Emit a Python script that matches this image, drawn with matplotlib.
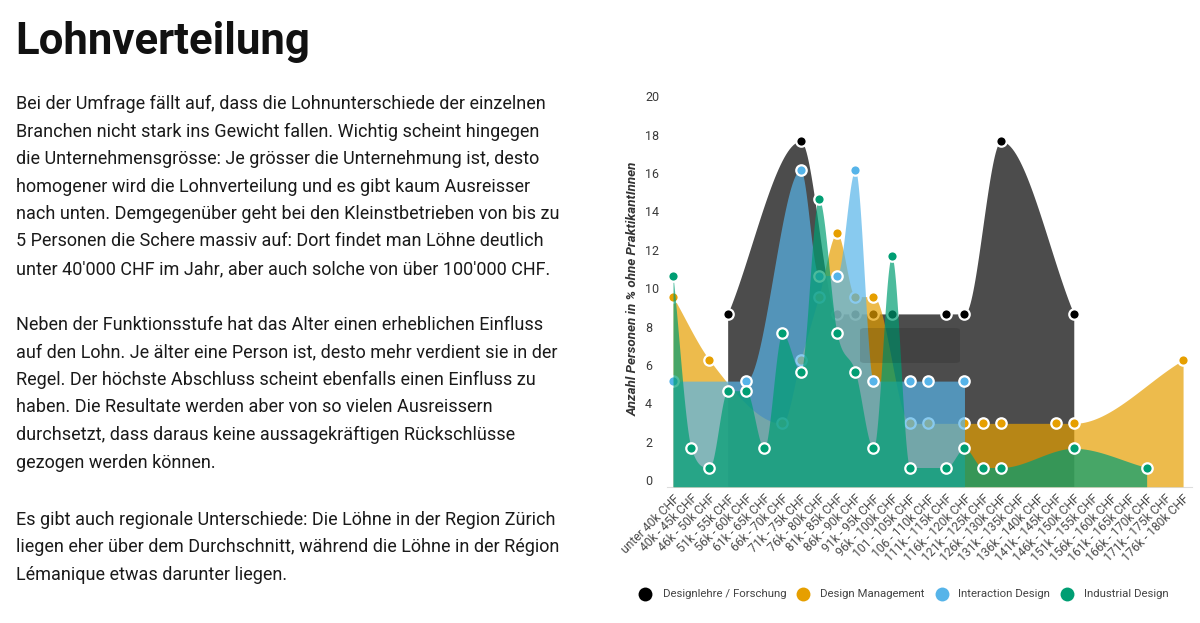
import numpy as np
import matplotlib.pyplot as plt
import matplotlib.transforms as mtransforms
from matplotlib.patches import FancyBboxPatch
from matplotlib.lines import Line2D

plt.rcParams['font.family'] = ['Roboto', 'DejaVu Sans']

nan = np.nan
labels = ["unter 40k CHF", "40k - 45k CHF", "46k - 50k CHF", "51k - 55k CHF",
          "56k - 60k CHF", "61k - 65k CHF", "66k - 70k CHF", "71k - 75k CHF",
          "76k - 80k CHF", "81k - 85k CHF", "86k - 90k CHF", "91k - 95k CHF",
          "96k - 100k CHF", "101 - 105k CHF", "106 - 110k CHF", "111k - 115k CHF",
          "116k - 120k CHF", "121k - 125k CHF", "126k - 130k CHF", "131k - 135k CHF",
          "136k - 140k CHF", "141k - 145k CHF", "146k - 150k CHF", "151k - 155k CHF",
          "156k - 160k CHF", "161k - 165k CHF", "166k - 170k CHF", "171k - 175k CHF",
          "176k - 180k CHF"]

designlehre = [nan, nan, nan, 9.0, nan, nan, nan, 18.0, nan, 9.0, 9.0, 9.0, 9.0, nan, nan,
               9.0, 9.0, nan, 18.0, nan, nan, nan, 9.0, nan, nan, nan, nan, nan, nan]
management = [9.9, nan, 6.6, nan, nan, nan, 3.3, 6.6, 9.9, 13.2, 9.9, 9.9, nan, 3.3, 3.3,
              nan, 3.3, 3.3, 3.3, nan, nan, 3.3, 3.3, nan, nan, nan, nan, nan, 6.6]
interaction = [5.5, nan, nan, nan, 5.5, nan, nan, 16.5, 11.0, 11.0, 16.5, 5.5, nan, 5.5, 5.5,
               nan, 5.5, nan, nan, nan, nan, nan, nan, nan, nan, nan, nan, nan, nan]
industrial = [11.0, 2.0, 1.0, 5.0, 5.0, 2.0, 8.0, 6.0, 15.0, 8.0, 6.0, 2.0, 12.0, 1.0, nan,
              1.0, 2.0, 1.0, 1.0, nan, nan, nan, 2.0, nan, nan, nan, 1.0, nan, nan]

series = [("Designlehre / Forschung", designlehre, "#000000"),
          ("Design Management", management, "#E69F00"),
          ("Interaction Design", interaction, "#56B4E9"),
          ("Industrial Design", industrial, "#009E73")]


def monotone(xs, ys, n=40):
    # monotone cubic like chart.js
    xs = np.asarray(xs, float)
    ys = np.asarray(ys, float)
    k = len(xs)
    d = np.diff(ys) / np.diff(xs)
    m = np.zeros(k)
    for i in range(k):
        if i == 0:
            m[i] = d[0]
        elif i == k - 1:
            m[i] = d[-1]
        elif np.sign(d[i - 1]) != np.sign(d[i]):
            m[i] = 0
        else:
            m[i] = (d[i - 1] + d[i]) / 2
    for i in range(k - 1):
        if abs(d[i]) < 1e-9:
            m[i] = m[i + 1] = 0
            continue
        a = m[i] / d[i]
        b = m[i + 1] / d[i]
        s = a * a + b * b
        if s > 9:
            t = 3 / np.sqrt(s)
            m[i] = t * a * d[i]
            m[i + 1] = t * b * d[i]
    px, py = [], []
    for i in range(k - 1):
        h = xs[i + 1] - xs[i]
        t = np.linspace(0, 1, n)
        h00 = 2 * t**3 - 3 * t**2 + 1
        h10 = t**3 - 2 * t**2 + t
        h01 = -2 * t**3 + 3 * t**2
        h11 = t**3 - t**2
        px.append(xs[i] + t * h)
        py.append(h00 * ys[i] + h10 * h * m[i] + h01 * ys[i + 1] + h11 * h * m[i + 1])
    return np.concatenate(px), np.concatenate(py)


fig = plt.figure(figsize=(12, 6.23), dpi=100)


def fx(x):
    return x / 1200


def fy(y):
    return 1 - y / 623


ax = fig.add_axes([fx(667), fy(486.7), fx(1192) - fx(667), fy(96) - fy(486.7)])
x = np.arange(len(labels))

for i, (name, vals, col) in enumerate(series):
    v = np.array(vals, float)
    ok = ~np.isnan(v)
    cx, cy = monotone(x[ok], v[ok])
    ax.fill_between(cx, 0, cy, color=col, alpha=0.7, lw=0, zorder=2 + 2 * i)
    ax.plot(x[ok], v[ok], 'o', color=col, ms=7.5, mec='white', mew=1.6,
            zorder=3 + 2 * i, clip_on=False)

ax.set_xlim(-0.33, 28.49)
ax.set_ylim(0, 20.35)
ax.set_yticks(np.arange(0, 21, 2))
ax.set_xticks(x)
ax.set_xticklabels(labels, rotation=45, ha='right', rotation_mode='anchor',
                   fontsize=8.7, color='#4a4a4a')
ax.tick_params(axis='x', length=0, pad=4)
ax.tick_params(axis='y', length=0, pad=15.8, labelsize=9, labelcolor='#3a3a3a')
shift = mtransforms.ScaledTranslation(0, 0.065, fig.dpi_scale_trans)
for lab in ax.get_yticklabels():
    lab.set_horizontalalignment('left')
    lab.set_transform(lab.get_transform() + shift)
for s in ['top', 'right', 'left']:
    ax.spines[s].set_visible(False)
ax.spines['bottom'].set_color('#dddddd')
ax.patch.set_alpha(0)

fig.text(fx(633), fy(289), "Anzahl Personen in % ohne PraktikantInnen", rotation=90,
         ha='center', va='center', fontsize=9.6, fontweight='bold', fontstyle='italic',
         color='#333333')

# tooltip shadow left in the screenshot
fig.add_artist(FancyBboxPatch((fx(860), fy(363)), fx(100), fy(328) - fy(363),
                              boxstyle="round,pad=0,rounding_size=0.004",
                              transform=fig.transFigure, fc='black', ec='none',
                              alpha=0.12, zorder=20))

# legend
leg_x = [(645, 663), (803, 820), (942, 958), (1067, 1084)]
for (cxp, tx), (name, vals, col) in zip(leg_x, series):
    fig.add_artist(Line2D([fx(cxp)], [fy(594)], marker='o', ms=10, color=col,
                          mec='none', transform=fig.transFigure))
    fig.text(fx(tx), fy(594), name, ha='left', va='center', fontsize=8.2, color='#444444')

# left text column
fig.text(fx(15), fy(42), "Lohnverteilung", ha='left', va='center', fontsize=31.5,
         fontweight='bold', color='#111111')

para1 = ["Bei der Umfrage fällt auf, dass die Lohnunterschiede der einzelnen",
         "Branchen nicht stark ins Gewicht fallen. Wichtig scheint hingegen",
         "die Unternehmensgrösse: Je grösser die Unternehmung ist, desto",
         "homogener wird die Lohnverteilung und es gibt kaum Ausreisser",
         "nach unten. Demgegenüber geht bei den Kleinstbetrieben von bis zu",
         "5 Personen die Schere massiv auf: Dort findet man Löhne deutlich",
         "unter 40'000 CHF im Jahr, aber auch solche von über 100'000 CHF."]
para2 = ["Neben der Funktionsstufe hat das Alter einen erheblichen Einfluss",
         "auf den Lohn. Je älter eine Person ist, desto mehr verdient sie in der",
         "Regel. Der höchste Abschluss scheint ebenfalls einen Einfluss zu",
         "haben. Die Resultate werden aber von so vielen Ausreissern",
         "durchsetzt, dass daraus keine aussagekräftigen Rückschlüsse",
         "gezogen werden können."]
para3 = ["Es gibt auch regionale Unterschiede: Die Löhne in der Region Zürich",
         "liegen eher über dem Durchschnitt, während die Löhne in der Région",
         "Lémanique etwas darunter liegen."]

for start, lines in [(104, para1), (325, para2), (520, para3)]:
    for j, line in enumerate(lines):
        fig.text(fx(16), fy(start + 27.5 * j), line, ha='left', va='center',
                 fontsize=12.95, color='#1a1a1a')

fig.savefig("out.png", dpi=100)
